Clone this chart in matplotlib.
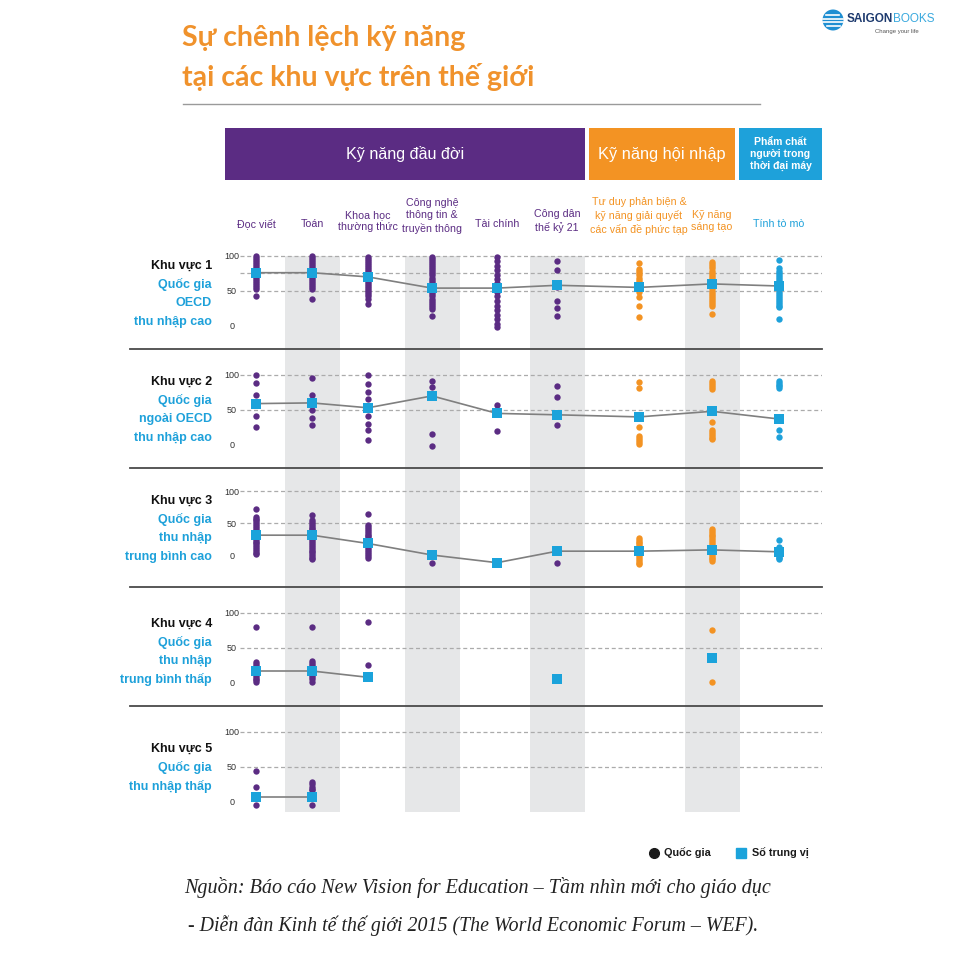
import numpy as np
import matplotlib
matplotlib.use("Agg")
import matplotlib.pyplot as plt
from matplotlib.lines import Line2D
from matplotlib.patches import Rectangle, Circle

plt.rcParams['font.family'] = ['Liberation Sans', 'DejaVu Sans']

# ---------------- data ----------------
skills = ["Đọc viết", "Toán", "Khoa học\nthường thức", "Công nghệ\nthông tin &\ntruyền thông",
          "Tài chính", "Công dân\nthế kỷ 21",
          "Tư duy phản biện &\nkỹ năng giải quyết\ncác vấn đề phức tạp", "Kỹ năng\nsáng tạo", "Tính tò mò"]
skill_group = ["base", "base", "base", "base", "base", "base", "comp", "comp", "char"]
groups = ["Kỹ năng đầu đời", "Kỹ năng hội nhập", "Phẩm chất\nngười trong\nthời đại máy"]

region_titles = ["Khu vực 1", "Khu vực 2", "Khu vực 3", "Khu vực 4", "Khu vực 5"]
region_desc = [["Quốc gia", "OECD", "thu nhập cao"],
               ["Quốc gia", "ngoài OECD", "thu nhập cao"],
               ["Quốc gia", "thu nhập", "trung bình cao"],
               ["Quốc gia", "thu nhập", "trung bình thấp"],
               ["Quốc gia", "thu nhập thấp"]]

nan = np.nan
# country values per skill (Khu vực 1)
region1_countries = [
    [100, 97, 94, 91, 88, 85, 82, 79, 76, 73, 70, 67, 64, 61, 58, 55, 53, 43],
    [100, 97, 94, 91, 88, 85, 82, 79, 76, 73, 70, 67, 64, 61, 58, 55, 52, 38],
    [99, 96, 93, 90, 87, 84, 81, 78, 75, 72, 69, 66, 63, 60, 57, 54, 51, 48, 45, 42, 39, 31],
    [99, 96, 93, 90, 87, 84, 81, 78, 75, 72, 69, 66, 63, 60, 57, 54, 51, 48, 45, 42, 39, 36, 33, 30, 27, 24, 14],
    [99, 93, 86, 80, 73, 67, 61, 57, 53, 49, 42, 36, 29, 23, 16, 10, 3, -2],
    [92, 80, 60, 56, 36, 25, 14],
    [90, 81, 78, 75, 72, 69, 66, 63, 60, 57, 54, 51, 48, 41, 29, 12],
    [91, 88, 85, 82, 79, 76, 73, 70, 67, 64, 61, 58, 55, 52, 49, 46, 43, 40, 37, 34, 31, 29, 17],
    [94, 82, 79, 76, 73, 70, 67, 64, 61, 58, 55, 52, 49, 46, 43, 40, 37, 34, 31, 28, 27, 10],
]
region1_medians = [76, 76, 70, 54, 54, 58, 55, 60, 57]

region2_countries = [
    [100, 88, 71, 41, 25],
    [95, 71, 60, 50, 39, 28],
    [100, 87, 76, 66, 53, 41, 30, 21, 7],
    [92, 83, 70, 16, -1],
    [57, 45, 20],
    [84, 68, 43, 28],
    [90, 81, 25, 13, 10, 7, 4, 1],
    [92, 89, 86, 83, 80, 33, 22, 19, 16, 13, 10, 8],
    [92, 89, 86, 84, 81, 22, 11],
]
region2_medians = [59, 60, 53, 70, 45, 43, 40, 48, 37]

region3_countries = [
    [72, 60, 57, 54, 51, 48, 45, 42, 39, 36, 33, 30, 27, 24, 21, 18, 15, 12, 9, 6, 3, 1],
    [63, 55, 52, 49, 46, 43, 40, 37, 34, 31, 28, 25, 22, 19, 16, 13, 10, 7, 4, 1, -2, -4, -6],
    [64, 47, 44, 41, 38, 35, 32, 29, 26, 23, 20, 17, 14, 11, 8, 5, 2, -1, -4],
    [-12],
    [],
    [-12],
    [27, 24, 21, 18, 15, 12, 9, 6, 3, 0, -3, -6, -9, -12, -14],
    [41, 38, 35, 32, 29, 26, 23, 20, 17, 14, 11, 8, 5, 2, -1, -4, -7, -10],
    [24, 12, 9, 6, 3, 0, -3, -5, -7],
]
region3_medians = [31, 31, 18, 0, -12, 6, 6, 8, 5]

region4_countries = [
    [80, 30, 27, 24, 21, 18, 15, 12, 9, 6, 4, 2],
    [80, 32, 29, 26, 23, 20, 17, 14, 11, 8, 5, 2],
    [87, 26],
    [],
    [],
    [],
    [],
    [75, 1],
    [],
]
region4_medians = [17, 17, 8, nan, nan, 6, nan, 36, nan]

region5_countries = [
    [44, 22, -4],
    [28, 25, 22, 19, 17, -4],
    [], [], [], [], [], [], [],
]
region5_medians = [7, 7, nan, nan, nan, nan, nan, nan, nan]

all_countries = [region1_countries, region2_countries, region3_countries,
                 region4_countries, region5_countries]
all_medians = [region1_medians, region2_medians, region3_medians,
               region4_medians, region5_medians]

# ---------------- layout / style ----------------
W = H = 960
col_pos = [256, 312, 368, 432, 497, 557, 639, 712, 779]   # horizontal layout of the skill columns
shaded_cols = [1, 3, 5, 7]
band_half = 27.5
X0, X1 = 240, 822
row_tops = [230, 349, 468, 587, 706]
row_h = 119
row_ylims = [(-33, 137), (-33, 137), (-50, 136), (-33, 137), (-33, 137)]
label_offsets = [36, 33, 33, 37, 43]

purple = "#5B2C83"
orange = "#F39323"
blue = "#1EA1DA"
sq_blue = "#1BA3DB"
title_orange = "#F0922C"
grp_color = {"base": purple, "comp": orange, "char": blue}


def fx(x):
    return x / W


def fy(y):
    return 1 - y / H


fig = plt.figure(figsize=(9.6, 9.6), dpi=100)
fig.patch.set_facecolor("white")

# background axes with grey column bands
bg = fig.add_axes([fx(X0), fy(812), (X1 - X0) / W, (812 - 256) / H])
bg.set_xlim(X0, X1)
bg.set_ylim(0, 1)
for c in shaded_cols:
    bg.axvspan(col_pos[c] - band_half, col_pos[c] + band_half, color="#E6E7E8", lw=0)
bg.axis("off")

for r, top in enumerate(row_tops):
    ax = fig.add_axes([fx(X0), fy(top + row_h), (X1 - X0) / W, row_h / H])
    ax.patch.set_alpha(0)
    ax.set_xlim(X0, X1)
    ax.set_ylim(*row_ylims[r])
    for s in ax.spines.values():
        s.set_visible(False)
    ax.set_xticks([])
    ax.set_yticks([0, 50, 100])
    ax.set_yticklabels(["0", "50", "100"])
    ax.tick_params(axis="y", length=0, pad=6, labelsize=6.5, labelcolor="#333333")
    for lab in ax.get_yticklabels():
        lab.set_ha("center")
    levels = [100, 75, 50] if r == 0 else [100, 50]
    for lv in levels:
        ax.axhline(lv, color="#ABABAB", lw=0.9, dashes=(3.2, 2.2), zorder=1)

    countries = all_countries[r]
    meds = all_medians[r]
    for i, vals in enumerate(countries):
        if len(vals):
            ax.scatter([col_pos[i]] * len(vals), vals, s=21,
                       color=grp_color[skill_group[i]], lw=0, zorder=3)
    ax.plot(col_pos, meds, color="#7F7F7F", lw=1.2, zorder=4)
    ax.scatter(col_pos, meds, marker="s", s=48, color=sq_blue, lw=0, zorder=5)

    # row labels
    y0 = top + label_offsets[r]
    fig.text(fx(212), fy(y0), region_titles[r], ha="right", va="center",
             fontsize=9, fontweight="bold", color="#111111")
    for k, d in enumerate(region_desc[r]):
        fig.text(fx(212), fy(y0 + 18.6 * (k + 1)), d, ha="right", va="center",
                 fontsize=9, fontweight="bold", color=blue)

# separators between regions
for y in row_tops[1:]:
    fig.add_artist(Line2D([fx(130), fx(822)], [fy(y), fy(y)], color="#4A4A4A", lw=1.3,
                          transform=fig.transFigure, zorder=6))

# header boxes
hdr = [(225, 585, purple, 11.6), (589, 735, orange, 11.8), (739, 822, blue, 7.5)]
for (xa, xb, col, fs), g in zip(hdr, groups):
    fig.add_artist(Rectangle((fx(xa), fy(180)), (xb - xa) / W, 52 / H,
                             transform=fig.transFigure, color=col, lw=0))
    fig.text(fx((xa + xb) / 2), fy(154), g, ha="center", va="center", fontsize=fs,
             color="white", fontweight="bold" if fs < 10 else "normal",
             linespacing=1.3)

# column labels
for i, lab in enumerate(skills):
    n = lab.count("\n") + 1
    yc = {1: 224, 2: 221, 3: 216}[n]
    fig.text(fx(col_pos[i]), fy(yc), lab, ha="center", va="center", fontsize=7.7,
             color=grp_color[skill_group[i]], linespacing=1.3)

# title
fig.text(fx(182), fy(38), "Sự chênh lệch kỹ năng", ha="left", va="center",
         fontsize=20.5, fontweight="bold", color=title_orange, family=["Lato", "DejaVu Sans"])
fig.text(fx(182), fy(77), "tại các khu vực trên thế giới", ha="left", va="center",
         fontsize=20.5, fontweight="bold", color=title_orange, family=["Lato", "DejaVu Sans"])
fig.add_artist(Line2D([fx(183), fx(760)], [fy(104), fy(104)], color="#9A9A9A", lw=1.0,
                      transform=fig.transFigure))

# logo
fig.add_artist(Circle((fx(833), fy(20)), 10.5 / W, transform=fig.transFigure,
                      color="#1F8FD2", lw=0))
for dy, x_a, x_b in [(-5, 826, 839), (-1.5, 823, 843), (2, 823, 843), (5.5, 827, 840)]:
    fig.add_artist(Line2D([fx(x_a), fx(x_b)], [fy(20 + dy), fy(20 + dy)], color="white",
                          lw=1.2, transform=fig.transFigure))
fig.text(fx(847), fy(19), "SAIGON", ha="left", va="center", fontsize=8.5,
         fontweight="bold", color="#1D3A6E")
fig.text(fx(893), fy(19), "BOOKS", ha="left", va="center", fontsize=8.5,
         color="#3AA9DE")
fig.text(fx(897), fy(31), "Change your life", ha="center", va="center", fontsize=4.3,
         color="#555555")

# legend
fig.add_artist(Line2D([fx(654)], [fy(853)], marker="o", markersize=7, color="#1A1A1A",
                      lw=0, transform=fig.transFigure))
fig.text(fx(664), fy(853), "Quốc gia", ha="left", va="center", fontsize=7.8,
         fontweight="bold", color="#1A1A1A")
fig.add_artist(Line2D([fx(741)], [fy(853)], marker="s", markersize=6.8, color=sq_blue,
                      lw=0, transform=fig.transFigure))
fig.text(fx(752), fy(853), "Số trung vị", ha="left", va="center", fontsize=7.8,
         fontweight="bold", color="#1A1A1A")

# source
src_font = ["Liberation Serif", "DejaVu Serif"]
fig.text(fx(478), fy(888), "Nguồn: Báo cáo New Vision for Education – Tầm nhìn mới cho giáo dục",
         ha="center", va="center", fontsize=14.5, style="italic", color="#222222",
         family=src_font)
fig.text(fx(471), fy(926), " - Diễn đàn Kinh tế thế giới 2015 (The World Economic Forum – WEF).",
         ha="center", va="center", fontsize=14.3, style="italic", color="#222222",
         family=src_font)

fig.savefig("out.png", dpi=100, facecolor="white")
